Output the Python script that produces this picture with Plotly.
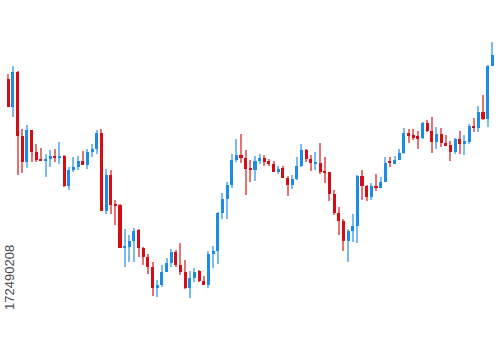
import plotly.graph_objects as go

opens = [275, 247, 282, 218, 192, 224.5, 202.5, 195.5, 193, 195.5,
         198.5, 196.5, 198.5, 168, 184.5, 187.5, 193, 189.5, 202, 205,
         221, 143.5, 179, 150.5, 149, 106, 107.5, 113.5, 124, 106.5,
         97.5, 87.5, 66, 69.5, 82.5, 91.5, 102, 89, 82.5, 66,
         76, 83, 73.5, 69, 100, 103, 141, 155, 169.5, 194,
         199.5, 196.5, 186, 184.5, 193, 196, 193, 190.5, 182, 186,
         176.5, 169, 175.5, 188, 204.5, 195.5, 190.5, 191.5, 183, 182.5,
         160.5, 141, 133, 113, 123, 128, 178, 168, 157.5, 168,
         166.5, 172.5, 192.5, 190.5, 194.5, 201, 221.5, 219, 218, 216,
         231.5, 223, 212.5, 220.5, 211.5, 209, 202.5, 215, 210.5, 212.5,
         228.5, 226.5, 242.5, 235, 288.5]
closes = [247, 282, 218, 192, 224.5, 202.5, 194, 193, 195.5, 198.5,
          196, 198.5, 168, 184.5, 187.5, 193, 189.5, 202, 205, 221,
          143.5, 179, 149.5, 148, 106, 108.5, 113.5, 123.5, 106.5, 97.5,
          87.5, 66, 69.5, 82.5, 91.5, 102, 89, 82.5, 66, 76,
          82.5, 73.5, 69, 100, 103, 141.5, 155, 169.5, 194, 199.5,
          196.5, 185.5, 184.5, 193.5, 196, 192.5, 190, 182, 185.5, 176.5,
          169, 175.5, 188, 204.5, 195.5, 191.5, 192, 182.5, 181.5, 160.5,
          141, 133, 113, 123, 128.5, 178, 168, 157.5, 168, 166.5,
          172.5, 191.5, 191.5, 194.5, 201.5, 221.5, 218, 216.5, 215, 231.5,
          223, 212.5, 220, 211.5, 208.5, 202.5, 215, 210.5, 213.5, 228.5,
          226.5, 242.5, 235, 288.5, 299.5]
highs = [280, 288, 283, 225, 229.5, 224.5, 210.5, 206, 200, 204,
         205.5, 212.5, 199.5, 187.5, 197, 198, 203, 205.5, 210.5, 224.5,
         225.5, 185.5, 184, 154.5, 150, 125.5, 119, 126.5, 125.5, 107,
         100.5, 92.5, 74, 89, 96.5, 105.5, 104, 111.5, 94, 83,
         86, 84, 78.5, 103, 108, 142.5, 161, 172, 200.5, 215,
         220.5, 204, 194, 198, 200, 199, 195.5, 193, 188, 188,
         178, 179, 197.5, 210, 205, 199, 202, 211.5, 197, 182.5,
         164, 147, 135.5, 125, 140.5, 179, 184.5, 169, 171.5, 180,
         177.5, 197.5, 197, 198, 205.5, 226.5, 225.5, 225, 223.5, 232,
         234, 237.5, 227.5, 226.5, 219, 213, 216.5, 223, 219, 230,
         236.5, 248.5, 259, 289, 312.5]
lows = [247, 237.5, 179, 181, 186, 192.5, 192.5, 193, 177.5, 187.5,
        192.5, 190.5, 167.5, 164, 182.5, 184, 189.5, 185.5, 197.5, 200.5,
        143.5, 140, 140, 129, 106, 87.5, 92.5, 92.5, 97.5, 89,
        80.5, 58.5, 57.5, 67.5, 82, 87, 87, 79, 65.5, 56,
        72.5, 72.5, 69, 66, 86, 90, 135, 135, 166.5, 192.5,
        191, 159, 172.5, 173.5, 190, 188, 188, 182, 180.5, 176.5,
        158, 165, 174, 187.5, 192.5, 183, 184, 180.5, 171, 153,
        139, 119, 103, 92.5, 112.5, 111.5, 154, 153.5, 154, 163.5,
        166, 172, 187.5, 190, 194, 200.5, 211, 214, 205.5, 215.5,
        222.5, 201.5, 205.5, 207.5, 208, 193, 200.5, 200.5, 199, 210.5,
        222, 222.5, 234.5, 227.5, 288]

stock_id = "172490208"
watermark = "Adobe Stock"

UP_BODY, UP_WICK = "#1b8de6", "#79bdf0"
DN_BODY, DN_WICK = "#d40d16", "#e57373"

n = len(opens)
xs = list(range(n))
up = [c >= o for o, c in zip(opens, closes)]

fig = go.Figure()

for is_up, wc in [(True, UP_WICK), (False, DN_WICK)]:
    idx = [i for i in xs if up[i] == is_up]
    fig.add_trace(go.Bar(
        x=idx, base=[lows[i] for i in idx],
        y=[highs[i] - lows[i] for i in idx],
        width=0.22, marker=dict(color=wc, line=dict(width=0)),
        hoverinfo="skip", showlegend=False))

for is_up, bc in [(True, UP_BODY), (False, DN_BODY)]:
    idx = [i for i in xs if up[i] == is_up]
    fig.add_trace(go.Bar(
        x=idx, base=[min(opens[i], closes[i]) for i in idx],
        y=[max(abs(closes[i] - opens[i]), 1.3) for i in idx],
        width=0.66, marker=dict(color=bc, line=dict(width=0)),
        showlegend=False))

annotations = [dict(
    text=stock_id, x=0.02, xref="paper", y=0.215, yref="paper",
    xanchor="center", yanchor="middle",
    showarrow=False, textangle=-90,
    font=dict(family="Liberation Sans, Arial, sans-serif", size=13, color="#4a4a4a"))]

wm_pos = [(0.22, 0.93), (0.78, 0.93), (0.30, 0.72), (0.85, 0.70),
          (0.50, 0.52), (0.20, 0.35), (0.62, 0.30), (0.40, 0.12), (0.82, 0.12)]
for wx, wy in wm_pos:
    annotations.append(dict(
        text=watermark, x=wx, y=wy, xref="paper", yref="paper", showarrow=False,
        textangle=-30,
        font=dict(family="Liberation Sans, Arial, sans-serif", size=22,
                  color="rgba(0,0,0,0.022)")))

fig.update_layout(
    width=500, height=354,
    margin=dict(l=0, r=0, t=0, b=0),
    paper_bgcolor="white", plot_bgcolor="white",
    barmode="overlay", bargap=0,
    xaxis=dict(range=[-1.783, 105.65], visible=False, fixedrange=True),
    yaxis=dict(range=[0, 354], visible=False, fixedrange=True),
    annotations=annotations,
    showlegend=False,
)

fig.write_html("out.html")
